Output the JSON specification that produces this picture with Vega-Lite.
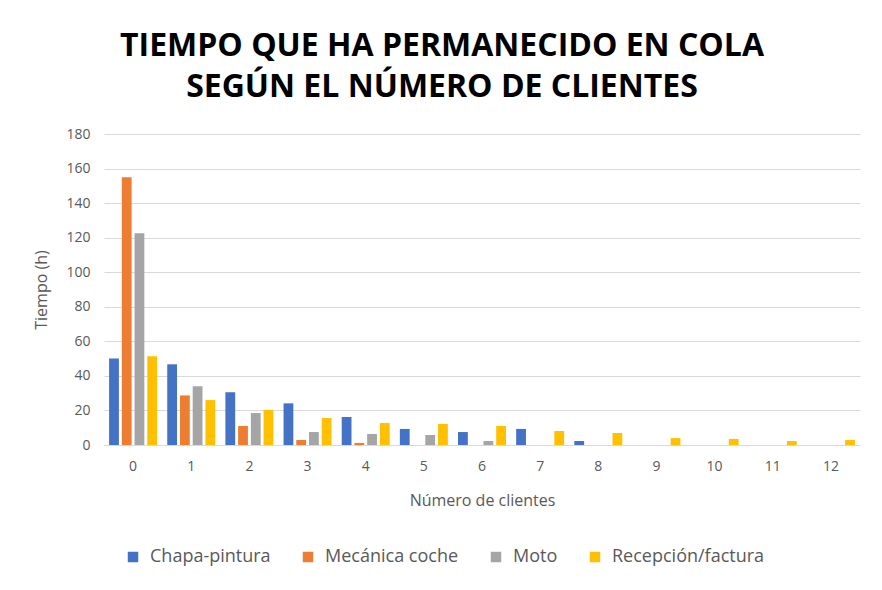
{
  "$schema": "https://vega.github.io/schema/vega-lite/v6.json",
  "autosize": "none",
  "width": 756,
  "height": 311,
  "padding": {"left": 104, "top": 134, "right": 22, "bottom": 145},
  "background": "white",
  "title": {
    "text": ["TIEMPO QUE HA PERMANECIDO EN COLA", "SEGÚN EL NÚMERO DE CLIENTES"],
    "font": "Open Sans",
    "fontSize": 32,
    "fontWeight": "bold",
    "color": "#000000",
    "lineHeight": 41,
    "anchor": "middle",
    "frame": "group",
    "offset": 23,
    "dx": -40
  },
  "data": {
    "values": [
      {"n": 0, "s": "Chapa-pintura", "v": 50},
      {"n": 0, "s": "Mecánica coche", "v": 155},
      {"n": 0, "s": "Moto", "v": 122.5},
      {"n": 0, "s": "Recepción/factura", "v": 51.3},
      {"n": 1, "s": "Chapa-pintura", "v": 46.7},
      {"n": 1, "s": "Mecánica coche", "v": 28.7},
      {"n": 1, "s": "Moto", "v": 34},
      {"n": 1, "s": "Recepción/factura", "v": 26},
      {"n": 2, "s": "Chapa-pintura", "v": 30.5},
      {"n": 2, "s": "Mecánica coche", "v": 11},
      {"n": 2, "s": "Moto", "v": 18.5},
      {"n": 2, "s": "Recepción/factura", "v": 20.3},
      {"n": 3, "s": "Chapa-pintura", "v": 24.1},
      {"n": 3, "s": "Mecánica coche", "v": 2.9},
      {"n": 3, "s": "Moto", "v": 7.5},
      {"n": 3, "s": "Recepción/factura", "v": 15.6},
      {"n": 4, "s": "Chapa-pintura", "v": 16.2},
      {"n": 4, "s": "Mecánica coche", "v": 1.2},
      {"n": 4, "s": "Moto", "v": 6.4},
      {"n": 4, "s": "Recepción/factura", "v": 12.7},
      {"n": 5, "s": "Chapa-pintura", "v": 9.3},
      {"n": 5, "s": "Mecánica coche", "v": 0},
      {"n": 5, "s": "Moto", "v": 5.8},
      {"n": 5, "s": "Recepción/factura", "v": 12.2},
      {"n": 6, "s": "Chapa-pintura", "v": 7.5},
      {"n": 6, "s": "Mecánica coche", "v": 0},
      {"n": 6, "s": "Moto", "v": 2.3},
      {"n": 6, "s": "Recepción/factura", "v": 11},
      {"n": 7, "s": "Chapa-pintura", "v": 9.3},
      {"n": 7, "s": "Mecánica coche", "v": 0},
      {"n": 7, "s": "Moto", "v": 0},
      {"n": 7, "s": "Recepción/factura", "v": 8.1},
      {"n": 8, "s": "Chapa-pintura", "v": 2.3},
      {"n": 8, "s": "Mecánica coche", "v": 0},
      {"n": 8, "s": "Moto", "v": 0},
      {"n": 8, "s": "Recepción/factura", "v": 7},
      {"n": 9, "s": "Chapa-pintura", "v": 0},
      {"n": 9, "s": "Mecánica coche", "v": 0},
      {"n": 9, "s": "Moto", "v": 0},
      {"n": 9, "s": "Recepción/factura", "v": 4},
      {"n": 10, "s": "Chapa-pintura", "v": 0},
      {"n": 10, "s": "Mecánica coche", "v": 0},
      {"n": 10, "s": "Moto", "v": 0},
      {"n": 10, "s": "Recepción/factura", "v": 3.5},
      {"n": 11, "s": "Chapa-pintura", "v": 0},
      {"n": 11, "s": "Mecánica coche", "v": 0},
      {"n": 11, "s": "Moto", "v": 0},
      {"n": 11, "s": "Recepción/factura", "v": 2.3},
      {"n": 12, "s": "Chapa-pintura", "v": 0},
      {"n": 12, "s": "Mecánica coche", "v": 0},
      {"n": 12, "s": "Moto", "v": 0},
      {"n": 12, "s": "Recepción/factura", "v": 2.9}
    ]
  },
  "mark": {"type": "bar"},
  "encoding": {
    "x": {
      "field": "n",
      "type": "ordinal",
      "title": "Número de clientes",
      "scale": {"paddingInner": 0.175, "paddingOuter": 0.0875},
      "axis": {
        "labelAngle": 0,
        "labelFont": "Open Sans",
        "labelFontSize": 14,
        "labelColor": "#595959",
        "labelPadding": 14,
        "ticks": false,
        "domainColor": "#d9d9d9",
        "domainWidth": 1,
        "titleFont": "Open Sans",
        "titleFontSize": 16,
        "titleFontWeight": "normal",
        "titleColor": "#595959",
        "titlePadding": 19
      }
    },
    "xOffset": {
      "field": "s",
      "type": "nominal",
      "scale": {"paddingInner": 0.23}
    },
    "y": {
      "field": "v",
      "type": "quantitative",
      "title": "Tiempo (h)",
      "scale": {"domain": [0, 180]},
      "axis": {
        "values": [0, 20, 40, 60, 80, 100, 120, 140, 160, 180],
        "labelFont": "Open Sans",
        "labelFontSize": 14,
        "labelColor": "#595959",
        "labelPadding": 14,
        "ticks": false,
        "domain": false,
        "gridColor": "#d9d9d9",
        "gridWidth": 1,
        "titleFont": "Open Sans",
        "titleFontSize": 16,
        "titleFontWeight": "normal",
        "titleColor": "#595959",
        "titlePadding": 16
      }
    },
    "color": {
      "field": "s",
      "type": "nominal",
      "title": null,
      "scale": {
        "domain": ["Chapa-pintura", "Mecánica coche", "Moto", "Recepción/factura"],
        "range": ["#4472C4", "#ED7D31", "#A5A5A5", "#FFC000"]
      },
      "legend": {
        "orient": "none",
        "legendX": 20,
        "legendY": 414,
        "direction": "horizontal",
        "symbolType": "square",
        "symbolSize": 110,
        "symbolStrokeWidth": 0,
        "labelFont": "Open Sans",
        "labelFontSize": 18,
        "labelColor": "#595959",
        "labelOffset": 8,
        "labelLimit": 300,
        "columnPadding": 28
      }
    }
  },
  "config": {"view": {"stroke": null}}
}
